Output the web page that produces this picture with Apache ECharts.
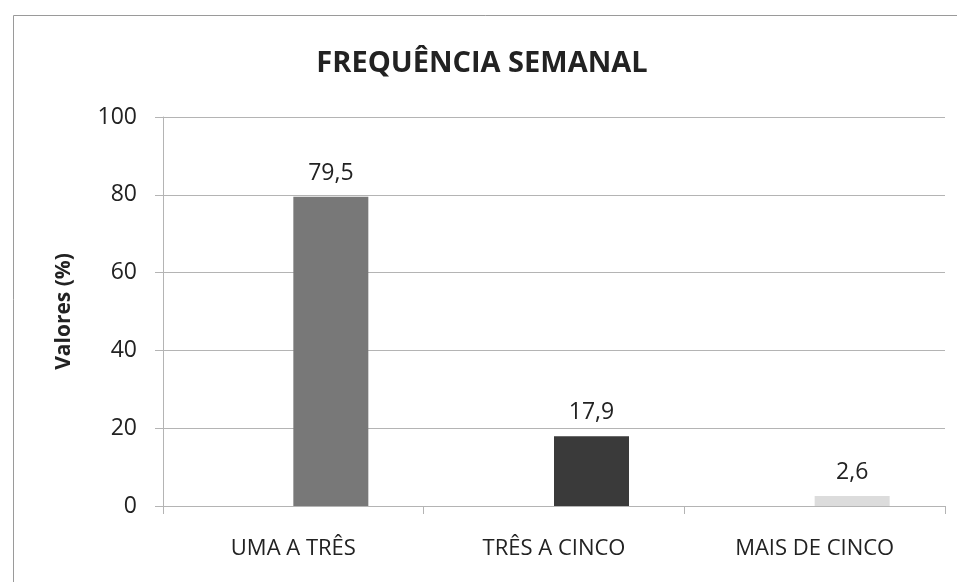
<!DOCTYPE html>
<html>
<head>
<meta charset="utf-8">
<script src="https://cdn.jsdelivr.net/npm/echarts@6/dist/echarts.min.js"></script>
<style>
  html, body { margin: 0; padding: 0; background: #fff; }
  #chart { width: 957px; height: 582px; }
</style>
</head>
<body>
<div id="chart"></div>
<script>
const categories = ['UMA A TRÊS', 'TRÊS A CINCO', 'MAIS DE CINCO']
const values = [79.5, 17.9, 2.6]
const barColors = ['#787878', '#3a3a3a', '#dcdcdc']
const yTicks = [0, 20, 40, 60, 80, 100]

const FONT = '"Open Sans", "Noto Sans", sans-serif'
const GRAY_LINE = '#b4b4b4'

const chart = echarts.init(document.getElementById('chart'))

chart.setOption({
  animation: false,
  title: {
    text: 'FREQUÊNCIA SEMANAL',
    left: 477,
    top: 44,
    textAlign: 'center',
    textStyle: { fontFamily: FONT, fontSize: 29, fontWeight: 'bold', color: '#222' }
  },
  graphic: [{
    type: 'rect',
    shape: { x: 13.5, y: 15.5, width: 960, height: 600 },
    style: { fill: 'none', stroke: '#9a9a9a', lineWidth: 1 },
    silent: true
  }],
  grid: { left: 163, right: 12, top: 117, bottom: 76 },
  xAxis: {
    type: 'category',
    data: categories,
    axisLine: { lineStyle: { color: GRAY_LINE } },
    axisTick: { show: true, length: 8, lineStyle: { color: GRAY_LINE } },
    axisLabel: { fontFamily: FONT, fontSize: 22, color: '#222', margin: 32 }
  },
  yAxis: {
    type: 'value',
    min: yTicks[0],
    max: yTicks[yTicks.length - 1],
    interval: 20,
    name: 'Valores (%)',
    nameLocation: 'middle',
    nameGap: 88,
    nameTextStyle: { fontFamily: FONT, fontSize: 21, fontWeight: 'bold', color: '#222' },
    axisLine: { show: true, lineStyle: { color: GRAY_LINE } },
    axisTick: { show: true, length: 8, lineStyle: { color: GRAY_LINE } },
    axisLabel: { fontFamily: FONT, fontSize: 23, color: '#222', margin: 26 },
    splitLine: { lineStyle: { color: GRAY_LINE } }
  },
  series: [
    {
      type: 'bar',
      data: categories.map(() => null),
      barWidth: 75,
      barGap: '0%'
    },
    {
      type: 'bar',
      barWidth: 75,
      barGap: '0%',
      data: values.map((v, i) => ({ value: v, itemStyle: { color: barColors[i] } })),
      label: {
        show: true,
        position: 'top',
        distance: 12,
        fontFamily: FONT,
        fontSize: 23,
        color: '#222',
        formatter: p => String(p.value).replace('.', ',')
      }
    }
  ]
})
</script>
</body>
</html>
